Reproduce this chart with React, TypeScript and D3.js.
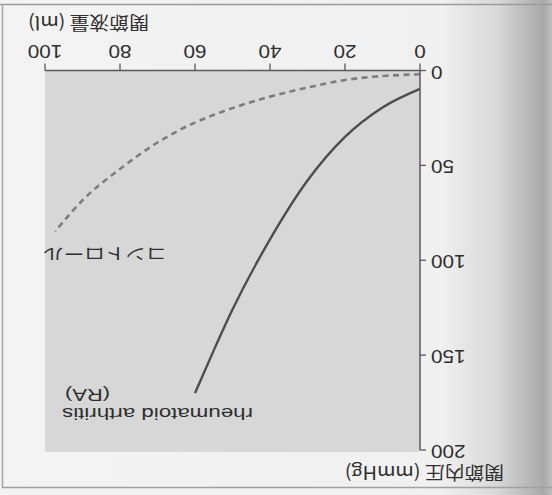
import React from "react";
import * as d3 from "d3";

const W = 552;
const H = 495;

// x: joint fluid volume (ml), y: intra-articular pressure (mmHg)
const xTicks = [0, 20, 40, 60, 80, 100];
const yTicks = [0, 50, 100, 150, 200];

const controlMl = [0, 12.4, 20.3, 30.2, 40.2, 52.4, 60.2, 70.2, 80.2, 89.8, 97.3];
const controlP = [2, 3.3, 5.1, 9.1, 13.9, 21.5, 27.6, 38.2, 52.2, 68, 84.8];

const raMl = [0, 10, 20, 30, 40, 50, 55, 60];
const raP = [9.7, 19.5, 35, 58, 89, 126, 147.5, 170];

const xTitle = "関節液量 (ml)";
const yTitle = "関節内圧 (mmHg)";
const controlLabel = "コントロール";
const raLabel1 = "rheumatoid arthritis";
const raLabel2 = "(RA)";

const FONT = "'Liberation Sans', Arial, 'Noto Sans CJK JP', sans-serif";
const CJK = "'Noto Sans CJK JP', 'Liberation Sans', sans-serif";

export default function App() {
  // chart is drawn upright, then the whole page is turned 180°
  const x = d3.scaleLinear().domain([0, 100]).range([132, 507]);
  const y = d3.scaleLinear().domain([0, 200]).range([424.5, 45]);

  const line = d3
    .line<[number, number]>()
    .x((d) => x(d[0]))
    .y((d) => y(d[1]))
    .curve(d3.curveMonotoneX);

  const controlData = controlMl.map((m, i) => [m, controlP[i]] as [number, number]);
  const raData = raMl.map((m, i) => [m, raP[i]] as [number, number]);

  const axisColor = "#5a5a5a";
  const textColor = "#2e2e2e";

  return (
    <svg width={W} height={H} style={{ display: "block", position: "absolute", left: 0, top: 0 }}>
      <defs>
        <linearGradient id="edge" x1="0" x2="1" y1="0" y2="0">
          <stop offset="0" stopColor="#f3f3f3" />
          <stop offset="0.8" stopColor="#f0f0f0" />
          <stop offset="0.9" stopColor="#d8d8d8" />
          <stop offset="0.985" stopColor="#a9a9a9" />
          <stop offset="1" stopColor="#bdbdbd" />
        </linearGradient>
      </defs>
      <rect x={0} y={0} width={W} height={H} fill="#f3f3f3" />
      <rect x={0} y={0} width={W} height={H} fill="url(#edge)" />
      {/* scanned page frame */}
      <line x1={0} x2={W} y1={4.5} y2={4.5} stroke="#9a9a9a" strokeWidth={1.5} />
      <line x1={2.5} x2={2.5} y1={4} y2={488} stroke="#a5a5a5" strokeWidth={1.5} />
      <line x1={2} x2={W} y1={487.5} y2={487.5} stroke="#a0a0a0" strokeWidth={1.5} />

      <g transform={`rotate(180 ${W / 2} ${H / 2})`}>
        {/* plot area */}
        <rect
          x={x(0)}
          y={y(200) - 2}
          width={x(100) - x(0)}
          height={y(0) - y(200) + 2}
          fill="#d7d7d7"
        />

        {/* curves */}
        <path
          d={line(controlData) || ""}
          fill="none"
          stroke="#7d7d7d"
          strokeWidth={2.6}
          strokeDasharray="6,4.5"
        />
        <path d={line(raData) || ""} fill="none" stroke="#4d4d4d" strokeWidth={2.4} />

        {/* x axis (bottom when upright) */}
        <line x1={x(0)} x2={x(100)} y1={y(0)} y2={y(0)} stroke={axisColor} strokeWidth={1.5} />
        {xTicks.map((t) => (
          <g key={"xt" + t}>
            <line x1={x(t)} x2={x(t)} y1={y(0)} y2={y(0) + 7} stroke={axisColor} strokeWidth={1.3} />
            <text
              transform={`translate(${x(t)},${y(0) + 26}) scale(1.15,1)`}
              textAnchor="middle"
              fontFamily={FONT}
              fontSize={18}
              fill={textColor}
            >
              {t}
            </text>
          </g>
        ))}

        {/* y axis (left when upright) */}
        <line x1={x(0)} x2={x(0)} y1={y(0)} y2={y(200)} stroke={axisColor} strokeWidth={1.5} />
        {yTicks.map((t) => (
          <g key={"yt" + t}>
            <line x1={x(0)} x2={x(0) - 6} y1={y(t)} y2={y(t)} stroke={axisColor} strokeWidth={1.3} />
            <text
              transform={`translate(${x(0) - 11},${y(t) + 5}) scale(1.15,1)`}
              textAnchor="end"
              fontFamily={FONT}
              fontSize={18}
              fill={textColor}
            >
              {t}
            </text>
          </g>
        ))}

        {/* axis titles */}
        <text
          transform={`translate(524,479) scale(1.1,1)`}
          textAnchor="end"
          fontFamily={CJK}
          fontSize={18}
          fill={textColor}
        >
          {xTitle}
        </text>
        <text
          transform={`translate(48,29) scale(1.1,1)`}
          textAnchor="start"
          fontFamily={CJK}
          fontSize={18}
          fill={textColor}
        >
          {yTitle}
        </text>

        {/* series labels */}
        <text
          x={385}
          y={247}
          textLength={124}
          lengthAdjust="spacingAndGlyphs"
          fontFamily={CJK}
          fontSize={16}
          fill={textColor}
        >
          {controlLabel}
        </text>
        <text
          x={299}
          y={87}
          textLength={191}
          lengthAdjust="spacingAndGlyphs"
          fontFamily={FONT}
          fontSize={17}
          fill={textColor}
        >
          {raLabel1}
        </text>
        <text
          x={442}
          y={106}
          textLength={45}
          lengthAdjust="spacingAndGlyphs"
          fontFamily={FONT}
          fontSize={17}
          fill={textColor}
        >
          {raLabel2}
        </text>
      </g>
    </svg>
  );
}
